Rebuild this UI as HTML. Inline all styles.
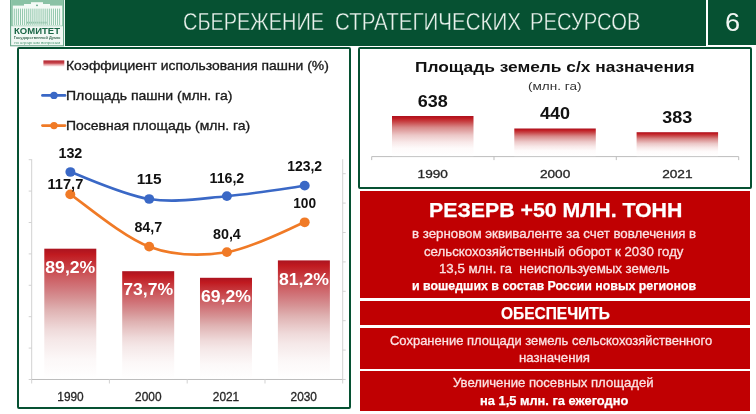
<!DOCTYPE html>
<html lang="ru"><head><meta charset="utf-8"><title>Сбережение стратегических ресурсов</title>
<style>
html,body{margin:0;padding:0;background:#fff;}
body{width:756px;height:414px;overflow:hidden;position:relative;font-family:"Liberation Sans", sans-serif;}
.abs{position:absolute;box-sizing:border-box;}
.hdr{left:65px;top:0;width:641px;height:45.8px;background:#065132;}
.num{left:708.2px;top:0;width:48px;height:45.2px;background:#065132;}
.panel{border:2px solid #065132;border-radius:2px;background:#fff;}
.p1{left:16.8px;top:46.8px;width:334.4px;height:362.2px;}
.p2{left:358.3px;top:46.8px;width:393.4px;height:142px;}
.red{left:359.6px;width:390px;background:#c00002;}
.r1{top:191px;height:106.8px;}
.r2{top:300.6px;height:24.2px;}
.r3{top:327.6px;height:41.9px;}
.r4{top:371px;height:40.2px;}
.t{position:absolute;white-space:nowrap;line-height:1;transform-origin:0 0;}
.ov{position:absolute;left:0;top:0;font-family:"Liberation Sans", sans-serif;overflow:visible;}
.logo{position:absolute;left:10px;top:0;font-family:"Liberation Sans", sans-serif;}
h1,p{margin:0;font-size:inherit;font-weight:inherit;}
</style></head>
<body>
<svg class="logo" width="55" height="47" viewBox="10 0 55 47" role="img" aria-label="Комитет Государственной Думы по аграрным вопросам">
<g>
<rect x="10.6" y="-1" width="53" height="46.8" fill="#f1f8f4" stroke="#5fa283" stroke-width="1"/>
<rect x="11.1" y="0" width="52" height="26.2" fill="#8ac2a5"/>
<rect x="12.8" y="5.6" width="49.4" height="20" fill="#f4faf6"/>
<rect x="24" y="4" width="26" height="2.2" fill="#f4faf6"/>
<rect x="31" y="2.2" width="12" height="4" fill="#f4faf6"/>
<circle cx="37" cy="5.4" r="0.8" fill="#4f9775"/>
<path d="M14.30 8.6V25M16.36 8.6V25M18.42 8.6V25M20.48 8.6V25M22.54 8.6V25M24.60 8.6V25M26.66 8.6V25M28.72 8.6V25M30.78 8.6V25M32.84 8.6V25M34.90 8.6V25M36.96 8.6V25M39.02 8.6V25M41.08 8.6V25M43.14 8.6V25M45.20 8.6V25M47.26 8.6V25M49.32 8.6V25M51.38 8.6V25M53.44 8.6V25M55.50 8.6V25M57.56 8.6V25M59.62 8.6V25" stroke="#93c8ad" stroke-width="1" fill="none"/>
<path d="M27 22.6H47" stroke="#6aa98a" stroke-width="1.6" stroke-dasharray="1 1.06" fill="none" opacity="0.7"/>
<text x="37" y="33.9" text-anchor="middle" font-size="8.6" font-weight="700" fill="#1b6747" textLength="46" lengthAdjust="spacingAndGlyphs">КОМИТЕТ</text>
<text x="37" y="38.8" text-anchor="middle" font-size="3.9" font-weight="700" fill="#3f6e58" textLength="46.6" lengthAdjust="spacingAndGlyphs">Государственной Думы</text>
<text x="37.2" y="43.6" text-anchor="middle" font-size="3.9" fill="#4f9b77" textLength="46" lengthAdjust="spacingAndGlyphs">по аграрным вопросам</text>
</g>
</svg>
<header class="abs hdr"><h1>
<span class="t" style="left:117.50px;top:10.80px;font-size:23.5px;font-weight:400;color:#e9f1ec;transform:scaleX(0.8483);-webkit-text-stroke:0.35px #065132">СБЕРЕЖЕНИЕ</span>
<span class="t" style="left:269.60px;top:10.80px;font-size:23.5px;font-weight:400;color:#e9f1ec;transform:scaleX(0.8745);-webkit-text-stroke:0.35px #065132">СТРАТЕГИЧЕСКИХ</span>
<span class="t" style="left:464.60px;top:10.80px;font-size:23.5px;font-weight:400;color:#e9f1ec;transform:scaleX(0.8605);-webkit-text-stroke:0.35px #065132">РЕСУРСОВ</span>
</h1></header>
<div class="abs num"><span class="t" style="left:17.00px;top:9.80px;font-size:25.5px;font-weight:400;color:#f2f7f4;transform:scaleX(1.0643)">6</span></div>
<section class="abs panel p1">
<svg class="ov" width="330.4" height="358.2" viewBox="18.8 48.8 330.4 358.2" role="img" aria-label="Динамика площади пашни, посевной площади и коэффициента использования пашни">
<defs><linearGradient id="gb" x1="0" y1="0" x2="0" y2="1"><stop offset="0" stop-color="#ab1420"/><stop offset="0.045" stop-color="#c01a20"/><stop offset="0.12" stop-color="#c6373c"/><stop offset="0.21" stop-color="#cc5a5e"/><stop offset="0.29" stop-color="#d07378"/><stop offset="0.38" stop-color="#d69294"/><stop offset="0.47" stop-color="#dfb2b2"/><stop offset="0.55" stop-color="#e8c8c8"/><stop offset="0.62" stop-color="#efdada"/><stop offset="0.7" stop-color="#f5e8e8"/><stop offset="0.85" stop-color="#fcf8f8"/><stop offset="1" stop-color="#ffffff"/></linearGradient><linearGradient id="gl" x1="0" y1="0" x2="0" y2="1"><stop offset="0" stop-color="#b42832"/><stop offset="0.42" stop-color="#c5424a"/><stop offset="0.62" stop-color="#e39599"/><stop offset="1" stop-color="#ffffff"/></linearGradient></defs>
<g stroke="#d2d2d2" stroke-width="1" fill="none">
<path d="M31.5 159 V383.3"/>
<path d="M342.5 159 V383.3"/>
<path d="M31.5 379.3 H342.5" stroke="#bdbdbd"/>
<path d="M31.5 379.3 h-3"/>
<path d="M31.5 347.9 h-3"/>
<path d="M31.5 316.5 h-3"/>
<path d="M31.5 285.1 h-3"/>
<path d="M31.5 253.7 h-3"/>
<path d="M31.5 222.3 h-3"/>
<path d="M31.5 190.9 h-3"/>
<path d="M31.5 159.5 h-3"/>
<path d="M342.5 379.3 h3"/>
<path d="M342.5 349.9 h3"/>
<path d="M342.5 320.5 h3"/>
<path d="M342.5 291.1 h3"/>
<path d="M342.5 261.7 h3"/>
<path d="M342.5 232.3 h3"/>
<path d="M342.5 202.9 h3"/>
<path d="M342.5 173.5 h3"/>
<path d="M109.2 379.3 v4"/>
<path d="M187.0 379.3 v4"/>
<path d="M264.8 379.3 v4"/>
</g>
<rect x="44.1" y="248.5" width="52" height="130.3" fill="url(#gb)"/>
<rect x="122.0" y="271.0" width="52" height="107.8" fill="url(#gb)"/>
<rect x="199.8" y="277.6" width="52" height="101.2" fill="url(#gb)"/>
<rect x="277.7" y="260.2" width="52" height="118.6" fill="url(#gb)"/>
<text x="70.1" y="272.7" text-anchor="middle" font-size="17" font-weight="700" fill="#fff" textLength="50" lengthAdjust="spacingAndGlyphs">89,2%</text>
<text x="148.0" y="295.2" text-anchor="middle" font-size="17" font-weight="700" fill="#fff" textLength="50" lengthAdjust="spacingAndGlyphs">73,7%</text>
<text x="225.8" y="301.8" text-anchor="middle" font-size="17" font-weight="700" fill="#fff" textLength="50" lengthAdjust="spacingAndGlyphs">69,2%</text>
<text x="303.7" y="284.4" text-anchor="middle" font-size="17" font-weight="700" fill="#fff" textLength="50" lengthAdjust="spacingAndGlyphs">81,2%</text>
<path d="M70.20 171.80 C83.33 176.30 122.92 194.77 149.00 198.80 C175.08 202.83 200.78 198.22 226.70 196.00 C252.62 193.78 291.53 187.25 304.50 185.50" fill="none" stroke="#3a68c6" stroke-width="2.6" stroke-linecap="round"/>
<path d="M70.10 194.20 C83.25 202.92 122.90 236.87 149.00 246.50 C175.10 256.13 200.78 256.07 226.70 252.00 C252.62 247.93 291.53 227.08 304.50 222.10" fill="none" stroke="#f07a26" stroke-width="2.6" stroke-linecap="round"/>
<ellipse cx="70.2" cy="171.8" rx="5.0" ry="4.85" fill="#3a68c6"/>
<ellipse cx="149.0" cy="198.8" rx="5.0" ry="4.85" fill="#3a68c6"/>
<ellipse cx="226.7" cy="196.0" rx="5.0" ry="4.85" fill="#3a68c6"/>
<ellipse cx="304.5" cy="185.5" rx="5.0" ry="4.85" fill="#3a68c6"/>
<ellipse cx="70.1" cy="194.2" rx="5.0" ry="4.85" fill="#f07a26"/>
<ellipse cx="149.0" cy="246.5" rx="5.0" ry="4.85" fill="#f07a26"/>
<ellipse cx="226.7" cy="252.0" rx="5.0" ry="4.85" fill="#f07a26"/>
<ellipse cx="304.5" cy="222.1" rx="5.0" ry="4.85" fill="#f07a26"/>
<text x="70.2" y="158.0" text-anchor="middle" font-size="13.8" font-weight="700" fill="#111" textLength="23.9" lengthAdjust="spacingAndGlyphs">132</text>
<text x="149.0" y="184.0" text-anchor="middle" font-size="13.8" font-weight="700" fill="#111" textLength="24.8" lengthAdjust="spacingAndGlyphs">115</text>
<text x="226.7" y="182.6" text-anchor="middle" font-size="13.8" font-weight="700" fill="#111" textLength="34.7" lengthAdjust="spacingAndGlyphs">116,2</text>
<text x="304.5" y="171.2" text-anchor="middle" font-size="13.8" font-weight="700" fill="#111" textLength="34.9" lengthAdjust="spacingAndGlyphs">123,2</text>
<text x="65.2" y="189.3" text-anchor="middle" font-size="13.8" font-weight="700" fill="#111" textLength="35.8" lengthAdjust="spacingAndGlyphs">117,7</text>
<text x="148.1" y="231.7" text-anchor="middle" font-size="13.8" font-weight="700" fill="#111" textLength="27.8" lengthAdjust="spacingAndGlyphs">84,7</text>
<text x="226.7" y="238.4" text-anchor="middle" font-size="13.8" font-weight="700" fill="#111" textLength="27.9" lengthAdjust="spacingAndGlyphs">80,4</text>
<text x="304.4" y="207.6" text-anchor="middle" font-size="13.8" font-weight="700" fill="#111" textLength="22.9" lengthAdjust="spacingAndGlyphs">100</text>
<text x="70.3" y="400.8" text-anchor="middle" font-size="12" fill="#262626" stroke="#262626" stroke-width="0.3" textLength="26.4" lengthAdjust="spacingAndGlyphs">1990</text>
<text x="148.1" y="400.8" text-anchor="middle" font-size="12" fill="#262626" stroke="#262626" stroke-width="0.3" textLength="26.4" lengthAdjust="spacingAndGlyphs">2000</text>
<text x="225.8" y="400.8" text-anchor="middle" font-size="12" fill="#262626" stroke="#262626" stroke-width="0.3" textLength="26.4" lengthAdjust="spacingAndGlyphs">2021</text>
<text x="303.6" y="400.8" text-anchor="middle" font-size="12" fill="#262626" stroke="#262626" stroke-width="0.3" textLength="26.4" lengthAdjust="spacingAndGlyphs">2030</text>
<rect x="43.2" y="60.2" width="20.9" height="6.4" fill="url(#gl)"/>
<path d="M42.2 95.2 H64.8" stroke="#3a68c6" stroke-width="2.6" stroke-linecap="round"/><circle cx="53.8" cy="95.2" r="3.7" fill="#3a68c6"/>
<path d="M42.2 125.4 H64.8" stroke="#f07a26" stroke-width="2.6" stroke-linecap="round"/><circle cx="53.8" cy="125.4" r="3.7" fill="#f07a26"/>
</svg>
<div class="t" style="left:47.60px;top:9.80px;font-size:13.5px;font-weight:400;color:#1a1a1a;transform:scaleX(1.0288);-webkit-text-stroke:0.35px #1a1a1a">Коэффициент использования пашни (%)</div>
<div class="t" style="left:47.60px;top:39.80px;font-size:13.5px;font-weight:400;color:#1a1a1a;transform:scaleX(1.0390);-webkit-text-stroke:0.35px #1a1a1a">Площадь пашни (млн. га)</div>
<div class="t" style="left:47.60px;top:70.00px;font-size:13.5px;font-weight:400;color:#1a1a1a;transform:scaleX(1.0341);-webkit-text-stroke:0.35px #1a1a1a">Посевная площадь (млн. га)</div>
</section>
<section class="abs panel p2">
<svg class="ov" width="389.4" height="138" viewBox="360.3 48.8 389.4 138" role="img" aria-label="Площадь земель сельскохозяйственного назначения">
<defs><linearGradient id="gr" x1="0" y1="0" x2="0" y2="1"><stop offset="0" stop-color="#ab101e"/><stop offset="0.06" stop-color="#c01c22"/><stop offset="0.15" stop-color="#c84648"/><stop offset="0.28" stop-color="#d88888"/><stop offset="0.48" stop-color="#ecc8c8"/><stop offset="0.65" stop-color="#f8e8e8"/><stop offset="0.8" stop-color="#fefafa"/><stop offset="1" stop-color="#ffffff"/></linearGradient></defs>
<g stroke="#bdbdbd" stroke-width="1" fill="none">
<path d="M372 156.4 H739"/>
<path d="M372.0 156.4 v3.5"/>
<path d="M494.3 156.4 v3.5"/>
<path d="M616.6 156.4 v3.5"/>
<path d="M739.0 156.4 v3.5"/>
</g>
<rect x="392.3" y="115.8" width="81.5" height="40.1" fill="url(#gr)"/>
<text x="433.1" y="107.1" text-anchor="middle" font-size="15.6" font-weight="700" fill="#111" textLength="30" lengthAdjust="spacingAndGlyphs">638</text>
<rect x="514.6" y="128.3" width="81.5" height="27.6" fill="url(#gr)"/>
<text x="555.4" y="119.3" text-anchor="middle" font-size="15.6" font-weight="700" fill="#111" textLength="30" lengthAdjust="spacingAndGlyphs">440</text>
<rect x="636.9" y="132.0" width="81.5" height="23.9" fill="url(#gr)"/>
<text x="677.6" y="123.0" text-anchor="middle" font-size="15.6" font-weight="700" fill="#111" textLength="30" lengthAdjust="spacingAndGlyphs">383</text>
<text x="433.1" y="177.6" text-anchor="middle" font-size="11.4" fill="#262626" stroke="#262626" stroke-width="0.3" textLength="30.4" lengthAdjust="spacingAndGlyphs">1990</text>
<text x="555.4" y="177.6" text-anchor="middle" font-size="11.4" fill="#262626" stroke="#262626" stroke-width="0.3" textLength="30.4" lengthAdjust="spacingAndGlyphs">2000</text>
<text x="677.7" y="177.6" text-anchor="middle" font-size="11.4" fill="#262626" stroke="#262626" stroke-width="0.3" textLength="30.4" lengthAdjust="spacingAndGlyphs">2021</text>
</svg>
<div class="t" style="left:54.90px;top:11.40px;font-size:14px;font-weight:700;color:#111;transform:scaleX(1.2363)">Площадь земель с/х назначения</div>
<div class="t" style="left:167.70px;top:31.80px;font-size:11.5px;font-weight:400;color:#333;transform:scaleX(1.1795)">(млн. га)</div>
</section>
<section class="abs red r1">
<p class="t" style="left:69.00px;top:9.20px;font-size:20.2px;font-weight:700;color:#fff;transform:scaleX(1.0558);-webkit-text-stroke:0.25px #fff">РЕЗЕРВ +50 МЛН. ТОНН</p>
<p class="t" style="left:52.70px;top:36.00px;font-size:13px;font-weight:400;color:#fbe2e3;transform:scaleX(1.0217);-webkit-text-stroke:0.3px #fbe2e3">в зерновом эквиваленте за счет вовлечения в</p>
<p class="t" style="left:64.40px;top:53.60px;font-size:13px;font-weight:400;color:#fbe2e3;transform:scaleX(1.0186);-webkit-text-stroke:0.3px #fbe2e3">сельскохозяйственный оборот к 2030 году</p>
<p class="t" style="left:79.80px;top:71.30px;font-size:13px;font-weight:400;color:#fbe2e3;transform:scaleX(1.0194);-webkit-text-stroke:0.3px #fbe2e3">13,5 млн. га  неиспользуемых земель</p>
<p class="t" style="left:52.70px;top:88.40px;font-size:13px;font-weight:700;color:#fff;transform:scaleX(0.9518);-webkit-text-stroke:0.25px #fff">и вошедших в состав России новых регионов</p>
</section>
<section class="abs red r2">
<p class="t" style="left:141.20px;top:4.00px;font-size:17.2px;font-weight:700;color:#fff;transform:scaleX(0.9014);-webkit-text-stroke:0.25px #fff">ОБЕСПЕЧИТЬ</p>
</section>
<section class="abs red r3">
<p class="t" style="left:30.20px;top:6.30px;font-size:13px;font-weight:400;color:#fbe2e3;transform:scaleX(0.9982);-webkit-text-stroke:0.3px #fbe2e3">Сохранение площади земель сельскохозяйственного</p>
<p class="t" style="left:159.90px;top:23.20px;font-size:13px;font-weight:400;color:#fbe2e3;transform:scaleX(1.0166);-webkit-text-stroke:0.3px #fbe2e3">назначения</p>
</section>
<section class="abs red r4">
<p class="t" style="left:93.80px;top:5.30px;font-size:13px;font-weight:400;color:#fbe2e3;transform:scaleX(1.0092);-webkit-text-stroke:0.3px #fbe2e3">Увеличение посевных площадей</p>
<p class="t" style="left:120.10px;top:23.00px;font-size:13px;font-weight:700;color:#fff;transform:scaleX(0.9888);-webkit-text-stroke:0.25px #fff">на 1,5 млн. га ежегодно</p>
</section>
</body></html>
